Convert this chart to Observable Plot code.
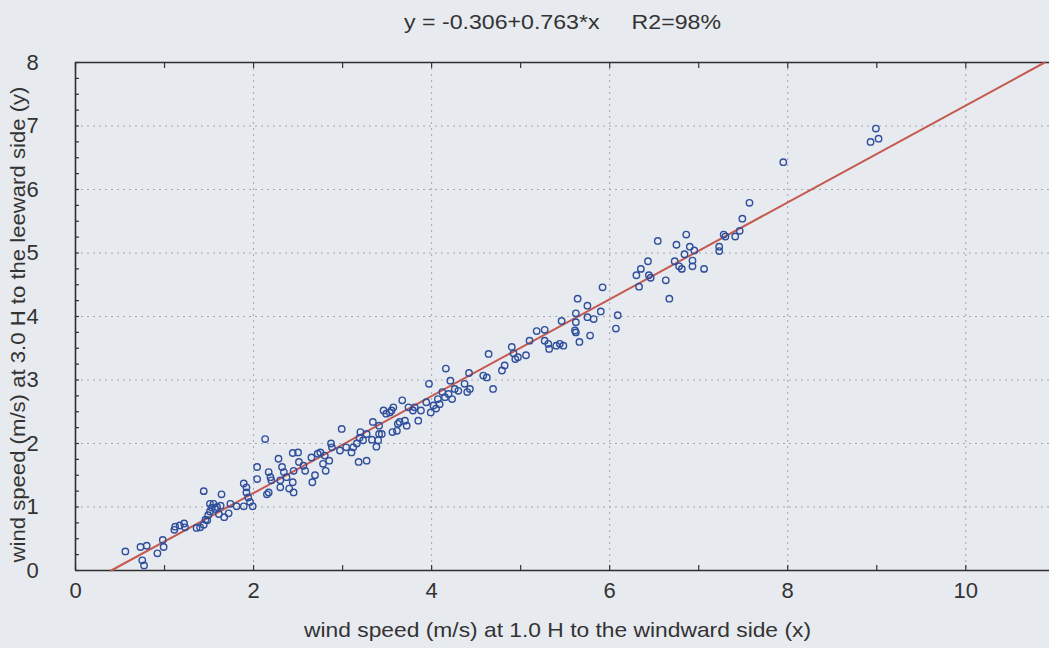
<!DOCTYPE html>
<html><head><meta charset="utf-8">
<script src="https://cdn.jsdelivr.net/npm/d3@7"></script>
<script src="https://cdn.jsdelivr.net/npm/@observablehq/plot@0.6"></script>
<style>
html,body{margin:0;padding:0;background:#e7eaef;overflow:hidden;}
</style></head><body><div id="chart"></div>
<script>
const windwardX = [
0.56,0.73,0.80,0.75,0.77,0.92,0.99,0.98,1.11,1.12,1.17,1.22,1.23,1.36,1.40,1.44,1.44,1.46,1.48,1.49,1.51,1.51,1.53,1.55,1.57,1.59,1.61,1.63,1.64,1.67,1.72,1.74,1.81,1.89,1.89,1.92,1.92,1.94,1.96,1.99,2.04,2.04,
2.13,2.17,2.19,2.17,2.15,2.20,2.28,2.30,2.32,2.34,2.30,2.37,2.40,2.44,2.45,2.44,2.50,2.45,2.51,2.56,2.58,2.65,2.66,2.69,2.72,2.75,2.78,2.80,2.81,2.85,2.87,2.88,2.97,2.99,3.04,3.10,3.12,3.16,3.18,3.19,3.20,3.23,3.27,3.27,3.33,3.34,3.38,3.40,3.41,3.44,3.41,3.46,3.49,3.57,3.56,3.61,3.62,3.55,
3.53,3.64,3.67,3.70,3.72,3.74,3.79,3.81,3.85,3.88,3.94,3.97,3.99,4.02,4.05,4.07,4.09,4.12,4.15,4.16,4.19,4.21,4.23,4.26,4.30,4.37,4.40,4.42,4.43,4.58,4.62,4.64,
4.69,4.79,4.82,4.90,4.92,4.94,4.97,5.06,5.10,5.18,5.27,5.27,5.31,5.32,5.40,5.44,5.48,5.46,5.61,5.62,5.62,5.62,5.64,5.66,5.75,5.75,5.78,5.82,5.90,5.92,6.07,6.09,
6.30,6.33,6.35,6.43,6.44,6.46,6.54,6.63,6.67,6.73,6.75,6.78,6.81,6.84,6.86,6.90,6.93,6.93,6.95,7.06,7.23,7.23,7.28,7.30,7.41,7.46,7.49,7.57,
7.95,8.99,9.02,8.93
];
const leewardY = [
0.30,0.37,0.39,0.16,0.08,0.27,0.37,0.48,0.64,0.69,0.71,0.74,0.68,0.67,0.68,0.72,1.25,0.80,0.79,0.87,0.93,1.05,0.99,1.05,0.97,1.00,0.89,1.02,1.20,0.84,0.90,1.05,1.01,1.01,1.37,1.31,1.23,1.15,1.08,1.01,1.63,1.44,
2.07,1.55,1.47,1.23,1.20,1.42,1.76,1.42,1.63,1.55,1.31,1.47,1.29,1.39,1.23,1.85,1.86,1.57,1.71,1.65,1.57,1.78,1.39,1.50,1.84,1.86,1.68,1.81,1.57,1.73,2.00,1.94,1.89,2.23,1.94,1.86,1.94,2.00,1.71,2.09,2.18,2.05,1.73,2.15,2.06,2.34,1.95,2.05,2.15,2.15,2.28,2.52,2.47,2.57,2.18,2.20,2.31,2.52,
2.49,2.34,2.68,2.36,2.28,2.57,2.52,2.57,2.36,2.52,2.65,2.94,2.49,2.60,2.55,2.70,2.62,2.81,2.73,3.18,2.78,2.99,2.70,2.86,2.83,2.94,2.81,3.11,2.86,3.07,3.04,3.41,
2.86,3.15,3.23,3.52,3.42,3.33,3.36,3.39,3.62,3.77,3.79,3.62,3.57,3.49,3.54,3.57,3.54,3.93,3.78,3.75,3.91,4.05,4.28,3.60,4.17,3.99,3.70,3.96,4.08,4.46,3.81,4.02,
4.65,4.47,4.75,4.87,4.65,4.61,5.19,4.57,4.28,4.87,5.13,4.79,4.75,4.98,5.29,5.10,4.88,4.79,5.04,4.75,5.10,5.03,5.29,5.26,5.26,5.35,5.54,5.79,
6.43,6.96,6.80,6.75
];
const fitIntercept = -0.306;
const fitSlope = 0.763;
const titleText = "y = -0.306+0.763*x\u00a0\u00a0\u00a0\u00a0\u00a0R2=98%";
const xLabel = "wind speed (m/s) at 1.0 H to the windward side (x)";
const yLabel = "wind speed (m/s) at 3.0 H to the leeward side (y)";
const xTickLabels = [0, 2, 4, 6, 8, 10];
const xMinorTicks = [0, 1, 2, 3, 4, 5, 6, 7, 8, 9, 10];
const yTickLabels = [0, 1, 2, 3, 4, 5, 6, 7, 8];
const yMinorTicks = [0,0.25,0.5,0.75,1,1.25,1.5,1.75,2,2.25,2.5,2.75,3,3.25,3.5,3.75,4,4.25,4.5,4.75,5,5.25,5.5,5.75,6,6.25,6.5,6.75,7,7.25,7.5,7.75,8];
const xDomain = [0, 10.94];
const yDomain = [0, 8];

const points = windwardX.map((x, i) => ({x, y: leewardY[i]}));
const fitLine = [yDomain[0], yDomain[1]].map(y => ({x: (y - fitIntercept) / fitSlope, y}));

const font = "'Liberation Sans', Arial, sans-serif";
const ink = "#333";

const chart = Plot.plot({
  width: 1049,
  height: 648,
  marginLeft: 75,
  marginRight: 0,
  marginTop: 62,
  marginBottom: 78,
  style: {background: "#e7eaef", fontFamily: font, color: ink, overflow: "visible"},
  x: {domain: xDomain, axis: null},
  y: {domain: yDomain, axis: null},
  marks: [
    Plot.gridX(xTickLabels.filter(d => d > 0), {stroke: "#a3a7ae", strokeOpacity: 1, strokeDasharray: "2,4", strokeWidth: 1}),
    Plot.gridY(yTickLabels.filter(d => d > 0 && d < 8), {stroke: "#a3a7ae", strokeOpacity: 1, strokeDasharray: "2,4", strokeWidth: 1}),
    Plot.axisX(xMinorTicks, {anchor: "bottom", tickSize: -5, tickFormat: () => "", stroke: ink, strokeWidth: 1.2, label: null}),
    Plot.axisX(xMinorTicks, {anchor: "top", tickSize: -5, tickFormat: () => "", stroke: ink, strokeWidth: 1.2, label: null}),
    Plot.axisY(yMinorTicks, {anchor: "left", tickSize: -4, tickFormat: () => "", stroke: ink, strokeWidth: 1.2, label: null}),
    Plot.axisX(xTickLabels, {anchor: "bottom", tickSize: 0, tickPadding: 12, fontSize: 22, fill: ink, label: null, tickFormat: d => String(d)}),
    Plot.axisY(yTickLabels, {anchor: "left", tickSize: 0, tickPadding: 43, fontSize: 22, fill: ink, label: null, textAnchor: "middle", tickFormat: d => String(d)}),
    Plot.ruleX([xDomain[0]], {stroke: "#2e2e2e", strokeWidth: 1.6}),
    Plot.ruleY([yDomain[0], yDomain[1]], {stroke: "#2e2e2e", strokeWidth: 1.6}),
    Plot.line(fitLine, {x: "x", y: "y", stroke: "#c65a50", strokeWidth: 2}),
    Plot.dot(points, {x: "x", y: "y", r: 3.2, stroke: "#2f4f9c", strokeWidth: 1.4, fill: "none"}),
    Plot.text([titleText], {frameAnchor: "top", dy: -48, fontSize: 20, fill: ink}),
    Plot.text([xLabel], {frameAnchor: "bottom", dy: 66, dx: -5, fontSize: 21, fill: ink}),
    Plot.text([yLabel], {frameAnchor: "left", dx: -57, dy: 8, rotate: -90, textAnchor: "middle", fontSize: 21, fill: ink})
  ]
});
document.getElementById("chart").append(chart);

// condense the long labels to the reference's narrow lettering
const targetLengths = new Map([[titleText, 317], [xLabel, 507], [yLabel, 476]]);
d3.select(chart).selectAll("text").each(function() {
  const len = targetLengths.get(this.textContent);
  if (len) {
    this.setAttribute("textLength", len);
    this.setAttribute("lengthAdjust", "spacingAndGlyphs");
  }
});
</script></body></html>
